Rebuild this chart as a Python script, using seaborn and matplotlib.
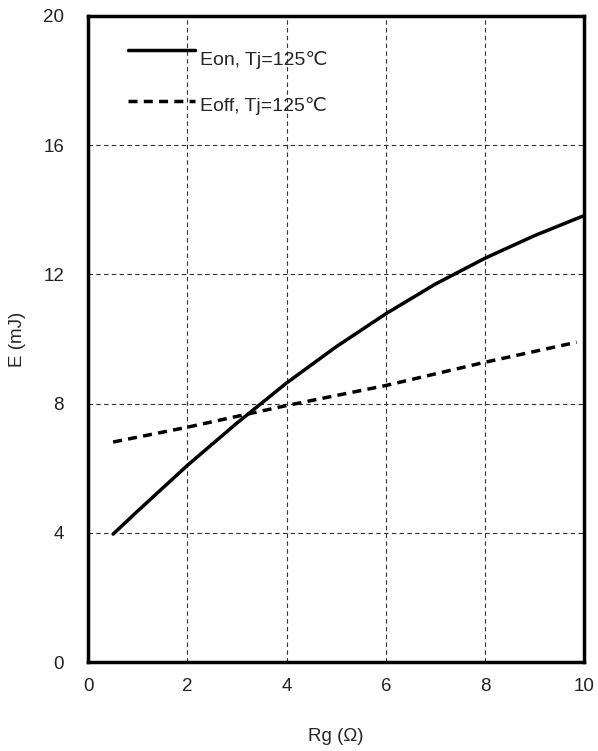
import matplotlib
matplotlib.use("Agg")
import matplotlib.pyplot as plt
import seaborn as sns
import pandas as pd
import numpy as np

rg_on = [0.5, 1, 2, 3, 4, 5, 6, 7, 8, 9, 10]
e_on = [3.96, 4.68, 6.09, 7.4, 8.64, 9.76, 10.78, 11.7, 12.5, 13.2, 13.82]
rg_off = [0.5, 2, 4, 6, 8, 9.85]
e_off = [6.81, 7.27, 7.94, 8.56, 9.28, 9.9]
labels = ["Eon, Tj=125\u2103", "Eoff, Tj=125\u2103"]
xticks = [0, 2, 4, 6, 8, 10]
yticks = [0, 4, 8, 12, 16, 20]

sns.set_style("white")
plt.rcParams["font.family"] = ["Liberation Sans", "DejaVu Sans"]

df = pd.concat([
    pd.DataFrame({"Rg": rg_on, "E": e_on, "series": labels[0]}),
    pd.DataFrame({"Rg": rg_off, "E": e_off, "series": labels[1]}),
])

fig = plt.figure(figsize=(5.98, 7.51), dpi=100)
ax = fig.add_axes([0.1477, 0.1185, 0.829, 0.8602])
sns.lineplot(data=df, x="Rg", y="E", hue="series", style="series",
             palette=["black", "black"], dashes=[(None, None), (2.6, 1.8)],
             linewidth=2.5, ax=ax, sort=False)

ax.set_xlim(0, 10)
ax.set_ylim(0, 20)
ax.set_xticks(xticks)
ax.set_yticks(yticks)
ax.tick_params(axis="y", length=0, labelsize=13.5, pad=17.5, colors="#222222")
ax.tick_params(axis="x", length=0, labelsize=13.5, pad=11.5, colors="#222222")
ax.grid(True, color="#333333", linestyle=(0, (4, 3)), linewidth=0.8)
for s in ax.spines.values():
    s.set_linewidth(2.5)
    s.set_color("black")
ax.set_xlabel("Rg (\u03a9)", fontsize=13.5, labelpad=24)
ax.set_ylabel("E (mJ)", fontsize=13.5, labelpad=12)

leg = ax.legend(loc="upper left", bbox_to_anchor=(0.081, 0.946), frameon=False,
                fontsize=14, handlelength=3.44, handletextpad=0.25,
                labelspacing=1.46, borderpad=0, borderaxespad=0)
for h, dy in zip(leg.get_lines(), [5.5, 2.7]):
    h.set_linewidth(2.5)
    h.set_ydata(np.asarray(h.get_ydata()) + dy)

fig.savefig("out.png", dpi=100)
